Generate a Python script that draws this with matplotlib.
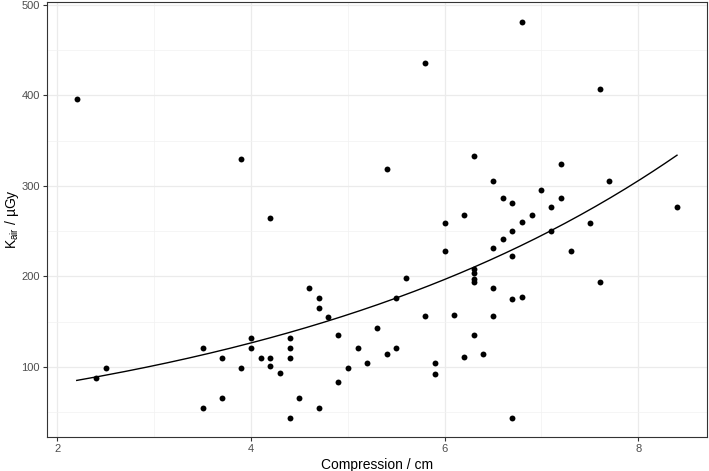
import numpy as np
import matplotlib
matplotlib.use("Agg")
import matplotlib.pyplot as plt
from matplotlib.ticker import MultipleLocator

plt.rcParams['font.family'] = ['Liberation Sans', 'DejaVu Sans']
plt.rcParams['mathtext.fontset'] = 'custom'
plt.rcParams['mathtext.rm'] = 'Liberation Sans'

compression = [2.2, 2.4, 2.5, 3.5, 3.5, 3.7, 3.7, 3.9, 3.9, 4.0, 4.0, 4.1, 4.2, 4.2, 4.2,
               4.3, 4.4, 4.4, 4.4, 4.4, 4.5, 4.6, 4.7, 4.7, 4.7, 4.8, 4.9, 4.9, 5.0, 5.1,
               5.2, 5.3, 5.4, 5.4, 5.5, 5.5, 5.6, 5.8, 5.8, 5.9, 5.9, 6.0, 6.0, 6.1, 6.2,
               6.2, 6.3, 6.3, 6.3, 6.3, 6.3, 6.3, 6.4, 6.5, 6.5, 6.5, 6.5, 6.6, 6.6, 6.7,
               6.7, 6.7, 6.7, 6.7, 6.8, 6.8, 6.8, 6.9, 7.0, 7.1, 7.1, 7.2, 7.2, 7.3, 7.5,
               7.6, 7.6, 7.7, 8.4]
kair = [396, 88, 99, 121, 55, 110, 66, 99, 330, 132, 121, 110, 110, 101, 264,
        93, 132, 121, 110, 44, 66, 187, 176, 165, 55, 155, 135, 83, 99, 121,
        104, 143, 114, 319, 176, 121, 198, 156, 436, 104, 92, 228, 259, 157, 111,
        268, 333, 208, 204, 197, 194, 135, 114, 305, 231, 187, 156, 287, 241, 281,
        250, 222, 175, 44, 481, 260, 177, 268, 296, 277, 250, 324, 287, 228, 259,
        407, 194, 305, 277]

# exponential fit  K = a * exp(b * x)
fit_a = 52.3
fit_b = 0.2207

fig = plt.figure(figsize=(7.09, 4.71), dpi=100)
ax = fig.add_axes([0.0659, 0.0716, 0.9313, 0.9234])

ax.scatter(compression, kair, s=18, color='black', zorder=3, linewidths=0)
xs = np.linspace(min(compression), max(compression), 200)
ax.plot(xs, fit_a * np.exp(fit_b * xs), color='black', lw=1.0, zorder=2)

ax.set_xlim(1.89, 8.71)
ax.set_ylim(22.15, 502.85)
ax.xaxis.set_major_locator(MultipleLocator(2))
ax.xaxis.set_minor_locator(MultipleLocator(1))
ax.yaxis.set_major_locator(MultipleLocator(100))
ax.yaxis.set_minor_locator(MultipleLocator(50))
ax.grid(which='major', color='#EBEBEB', lw=0.9, zorder=0)
ax.grid(which='minor', color='#F2F2F2', lw=0.5, zorder=0)
ax.set_axisbelow(True)
ax.tick_params(which='major', length=3, width=0.8, color='#333333',
               labelsize=8, labelcolor='#4D4D4D', pad=2)
ax.tick_params(which='minor', length=0)
for sp in ax.spines.values():
    sp.set_color('#333333')
    sp.set_linewidth(0.8)

ax.set_xlabel('Compression / cm', fontsize=10, labelpad=3)
fig.text(0.0165, 0.5345, r'K$_{\mathrm{air}}$ / µGy', fontsize=10,
         rotation=90, ha='center', va='center')

fig.savefig('out.png', dpi=100)
